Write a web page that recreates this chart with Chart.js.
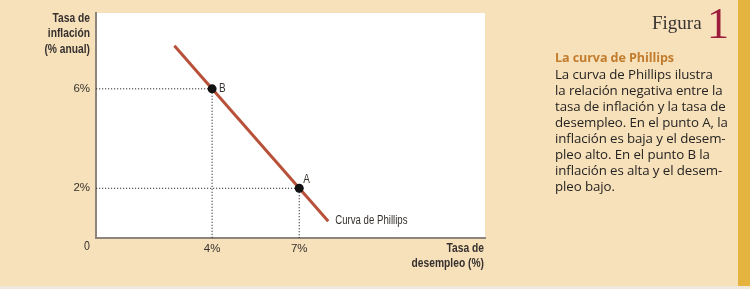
<!DOCTYPE html>
<html>
<head>
<meta charset="utf-8">
<script src="https://cdn.jsdelivr.net/npm/chart.js@4/dist/chart.umd.min.js"></script>
<style>
  html, body { margin:0; padding:0; }
  body { width:750px; height:289px; background:#f7e1bb; position:relative; overflow:hidden; }
  #wrap { position:absolute; left:0; top:0; width:750px; height:289px; }
  #stripe { position:absolute; left:738px; top:0; width:12px; height:289px; background:#e4b43e; }
  #bottom { position:absolute; left:0; top:286px; width:750px; height:3px; background:#efe8dc; }
  .fig { position:absolute; font-family:"Liberation Serif","DejaVu Serif",serif; color:#3a3532; }
  #figword { left:652px; top:12px; font-size:19px; }
  #fignum { left:707px; top:2px; font-size:44px; color:#9c1c3c; line-height:44px; }
  #panel { position:absolute; left:555px; top:49px; font-family:"Open Sans",Lato,sans-serif; font-size:13.3px; line-height:16px; color:#262422; white-space:nowrap; letter-spacing:-0.1px; }
  #panel .t { color:#c27c2d; font-weight:bold; font-size:12.6px; }
</style>
</head>
<body>
<div id="wrap"><canvas id="c" width="750" height="289"></canvas></div>
<div id="stripe"></div>
<div id="bottom"></div>
<div class="fig" id="figword">Figura</div>
<div class="fig" id="fignum">1</div>
<div id="panel"><span class="t">La curva de Phillips</span><br>La curva de Phillips ilustra<br>la relación negativa entre la<br>tasa de inflación y la tasa de<br>desempleo. En el punto A, la<br>inflación es baja y el desem-<br>pleo alto. En el punto B la<br>inflación es alta y el desem-<br>pleo bajo.</div>
<script>
// ---- data ----
const pointLabels = ['A', 'B'];
const unemployment = [7, 4];      // % desempleo
const inflation = [2, 6];         // % inflación anual
const curveX = [2.7, 8.0];        // Phillips curve endpoints (x)
const curveY = [7.73, 0.67];      // Phillips curve endpoints (y)
const xTickValues = [4, 7];
const yTickValues = [2, 6];
const curveLabel = 'Curva de Phillips';
const yTitle = ['Tasa de', 'inflación', '(% anual)'];
const xTitle = ['Tasa de', 'desempleo (%)'];

const SANS = '"Liberation Sans",Arial,sans-serif';
const TXT = '#36312e';

const points = unemployment.map((u, i) => ({x: u, y: inflation[i]}));
const curve = curveX.map((x, i) => ({x: x, y: curveY[i]}));
const guideSets = points.map(p => ({
  data: [{x: 0, y: p.y}, {x: p.x, y: p.y}, {x: p.x, y: 0}],
  showLine: true, borderColor: '#2a2a2a', borderWidth: 1, borderDash: [1.2, 1.8],
  pointRadius: 0, fill: false
}));

function squeezed(ctx, text, px, py, align, sx) {
  ctx.save();
  ctx.translate(px, py);
  ctx.scale(sx, 1);
  ctx.textAlign = align;
  ctx.fillText(text, 0, 0);
  ctx.restore();
}

const extras = {
  id: 'extras',
  beforeDraw(chart) {
    const {ctx, chartArea: a} = chart;
    ctx.save();
    ctx.fillStyle = '#ffffff';
    ctx.fillRect(a.left, a.top, a.right - a.left, a.bottom - a.top);
    ctx.restore();
  },
  afterDraw(chart) {
    const {ctx, scales: {x, y}} = chart;
    ctx.save();
    ctx.fillStyle = TXT;
    ctx.textBaseline = 'middle';
    // point labels
    ctx.font = '12.5px ' + SANS;
    points.forEach((p, i) => {
      const px = x.getPixelForValue(p.x), py = y.getPixelForValue(p.y);
      if (pointLabels[i] === 'A') squeezed(ctx, pointLabels[i], px + 4, py - 9, 'left', 0.8);
      else squeezed(ctx, pointLabels[i], px + 7, py, 'left', 0.8);
    });
    // curve label
    const ex = x.getPixelForValue(curveX[1]), ey = y.getPixelForValue(curveY[1]);
    squeezed(ctx, curveLabel, ex + 7, ey - 1, 'left', 0.77);
    // origin label
    squeezed(ctx, '0', x.getPixelForValue(0) - 9, 247, 'center', 0.85);
    // axis titles
    ctx.font = 'bold 13.5px ' + SANS;
    yTitle.forEach((t, i) => squeezed(ctx, t, 90, 18 + i * 15.5, 'right', 0.76));
    xTitle.forEach((t, i) => squeezed(ctx, t, x.right - 1, 248 + i * 15.5, 'right', 0.76));
    ctx.restore();
  }
};

new Chart(document.getElementById('c'), {
  type: 'scatter',
  data: {
    datasets: [
      { data: points, pointRadius: 4.5, pointBackgroundColor: '#111', pointBorderColor: '#111', pointBorderWidth: 0, showLine: false },
      { data: curve, showLine: true, borderColor: '#b8503a', borderWidth: 3, pointRadius: 0, fill: false },
      ...guideSets
    ]
  },
  options: {
    responsive: false,
    animation: false,
    devicePixelRatio: 1,
    layout: { padding: { left: 0, top: 13, right: 265, bottom: 0 } },
    plugins: { legend: { display: false }, tooltip: { enabled: false } },
    scales: {
      x: {
        type: 'linear', min: 0, max: 13.4,
        grid: { display: false, drawTicks: false },
        border: { display: true, color: '#8d857c', width: 2 },
        afterBuildTicks: s => { s.ticks = xTickValues.map(v => ({value: v})); },
        afterFit: s => { s.height = 51; },
        ticks: { callback: v => v + '%', color: TXT, font: { family: SANS, size: 11.5 }, padding: 4, maxRotation: 0, autoSkip: false }
      },
      y: {
        type: 'linear', min: 0, max: 9.05,
        grid: { display: false, drawTicks: false },
        border: { display: true, color: '#8d857c', width: 2 },
        afterBuildTicks: s => { s.ticks = yTickValues.map(v => ({value: v})); },
        afterFit: s => { s.width = 96; },
        ticks: { callback: v => v + '%', color: TXT, font: { family: SANS, size: 11.5 }, padding: 6, autoSkip: false }
      }
    }
  },
  plugins: [extras]
});
</script>
</body>
</html>
